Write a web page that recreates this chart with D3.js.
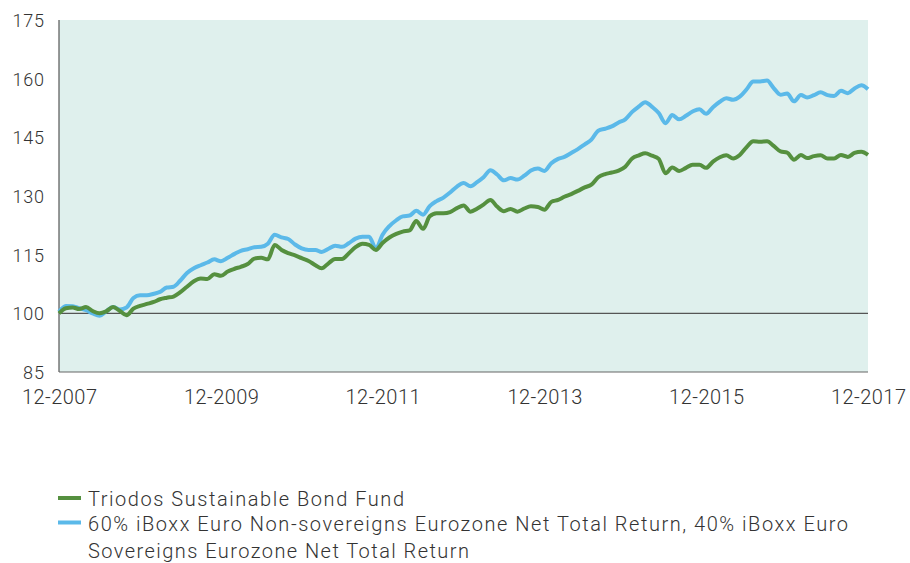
<!DOCTYPE html>
<html><head><meta charset="utf-8">
<script src="https://cdn.jsdelivr.net/npm/d3@7"></script>
<style>
html,body{margin:0;padding:0;background:#fff;}
svg text{font-family:Roboto,"Noto Sans",sans-serif;font-weight:300;fill:#333;}
</style></head>
<body><svg id="c" width="910" height="563"></svg>
<script>
const startDate = "2007-12";
const xTickLabels = ["12-2007","12-2009","12-2011","12-2013","12-2015","12-2017"];
const yTicks = [85,100,115,130,145,160,175];
const seriesNames = ["Triodos Sustainable Bond Fund",
  "60% iBoxx Euro Non-sovereigns Eurozone Net Total Return, 40% iBoxx Euro Sovereigns Eurozone Net Total Return"];
const fund = [100,101.3,101.5,101.1,101.6,100.6,100,100.5,101.6,100.6,99.5,101.2,101.9,102.4,102.9,103.6,104,104.3,105.4,106.8,108.2,108.9,108.8,110,109.6,110.7,111.4,111.9,112.6,114,114.2,113.8,117.5,116.2,115.4,114.8,114.1,113.4,112.3,111.5,112.8,113.9,113.9,115.3,116.9,117.8,117.5,116.2,118,119.4,120.3,120.9,121.2,123.6,121.6,124.8,125.6,125.6,125.9,126.9,127.6,126,126.8,127.8,129,127.3,126.1,126.7,126,126.8,127.4,127.2,126.5,128.5,129,129.8,130.5,131.3,132.2,132.9,134.8,135.6,136,136.5,137.5,139.6,140.4,140.9,140.3,139.5,135.8,137.3,136.4,137.2,138,138,137.2,138.8,139.9,140.4,139.6,140.5,142.5,144,143.9,144,142.8,141.4,141.1,139.3,140.5,139.7,140.2,140.4,139.6,139.6,140.5,140,141,141.3,140.5];
const benchmark = [100.4,101.9,101.8,101.3,100.8,100,99.4,100.5,101.6,101,101.5,103.9,104.6,104.6,105,105.5,106.6,106.8,108.4,110.3,111.5,112.3,113,113.8,113.3,114.2,115.2,116,116.4,116.9,117,117.8,120.1,119.4,119,117.6,116.6,116.2,116.2,115.7,116.5,117.3,117,117.9,119.1,119.6,119.6,116.6,120.1,122.3,123.8,124.8,125,126.2,125.2,127.4,128.7,129.6,130.9,132.4,133.3,132.5,133.6,134.8,136.6,135.5,134,134.6,134.2,135.2,136.5,137,136.4,138.4,139.5,140,141,142,143.2,144.4,146.7,147.2,147.8,148.8,149.6,151.5,152.9,154,152.8,151.2,148.6,150.7,149.6,150.5,151.6,152.2,151,152.7,154.1,155,154.6,155.4,157.3,159.3,159.3,159.5,157.6,155.9,156.2,154.2,155.8,155.2,155.8,156.5,155.8,155.6,156.9,156.3,157.5,158.3,157.3];
const colors = ["#55903f","#5bb9e9"];

const svg = d3.select("#c");
const m = {l:59, r:868, t:20, b:372};
const parse = d3.timeParse("%Y-%m");
const t0 = parse(startDate);
const dates = fund.map((d,i)=>d3.timeMonth.offset(t0,i));
const x = d3.scaleTime().domain([t0, dates[dates.length-1]]).range([m.l, m.r]);
const y = d3.scaleLinear().domain([85,175]).range([m.b, m.t]);

svg.append("rect").attr("x",m.l).attr("y",m.t).attr("width",m.r-m.l).attr("height",m.b-m.t).attr("fill","#dff0ed");

// y axis labels
const yAxis = d3.axisLeft(y).tickValues(yTicks).tickSize(0).tickPadding(15);
const ga = svg.append("g").attr("transform",`translate(${m.l},0)`).call(yAxis);
ga.select(".domain").remove();
ga.attr("font-size",18).attr("font-family",null);
ga.selectAll("text").attr("fill","#333").attr("dy","0.36em")
  .attr("textLength",d=>String(d).length*10.5).attr("lengthAdjust","spacing");

// x axis labels
const xTickDates = xTickLabels.map(s=>{const [mm,yy]=s.split("-");return new Date(+yy,+mm-1,1);});
const xAxis = d3.axisBottom(x).tickValues(xTickDates).tickSize(0).tickPadding(18).tickFormat((d,i)=>xTickLabels[i]);
const gx = svg.append("g").attr("transform",`translate(0,${m.b})`).call(xAxis);
gx.select(".domain").remove();
gx.attr("font-size",20).attr("font-family",null);
gx.selectAll("text").attr("fill","#333").attr("textLength",75).attr("lengthAdjust","spacing");

// axes lines
svg.append("line").attr("x1",m.l).attr("x2",m.l).attr("y1",m.t).attr("y2",m.b).attr("stroke","#555").attr("stroke-width",1.2);
svg.append("line").attr("x1",m.l).attr("x2",m.r).attr("y1",m.b).attr("y2",m.b).attr("stroke","#666").attr("stroke-width",1.2);
svg.append("line").attr("x1",m.l).attr("x2",m.r).attr("y1",y(100)).attr("y2",y(100)).attr("stroke","#555").attr("stroke-width",1.2);

const line = d3.line().x((d,i)=>x(dates[i])).y(d=>y(d)).curve(d3.curveMonotoneX);
svg.append("path").datum(benchmark).attr("d",line).attr("fill","none").attr("stroke",colors[1]).attr("stroke-width",4).attr("stroke-linejoin","round");
svg.append("path").datum(fund).attr("d",line).attr("fill","none").attr("stroke",colors[0]).attr("stroke-width",4).attr("stroke-linejoin","round");

// legend
const lg = svg.append("g").attr("font-size",20);
lg.append("line").attr("x1",58).attr("x2",81).attr("y1",498).attr("y2",498).attr("stroke",colors[0]).attr("stroke-width",4);
lg.append("line").attr("x1",58).attr("x2",81).attr("y1",522.5).attr("y2",522.5).attr("stroke",colors[1]).attr("stroke-width",4);
lg.append("text").attr("x",88).attr("y",506).attr("textLength",316).attr("lengthAdjust","spacing").text(seriesNames[0]);
const parts = seriesNames[1].split("40% iBoxx Euro ");
lg.append("text").attr("x",88).attr("y",531).attr("textLength",760).attr("lengthAdjust","spacing").text(parts[0]+"40% iBoxx Euro");
lg.append("text").attr("x",88).attr("y",558).attr("textLength",381).attr("lengthAdjust","spacing").text(parts[1]);
</script></body></html>
